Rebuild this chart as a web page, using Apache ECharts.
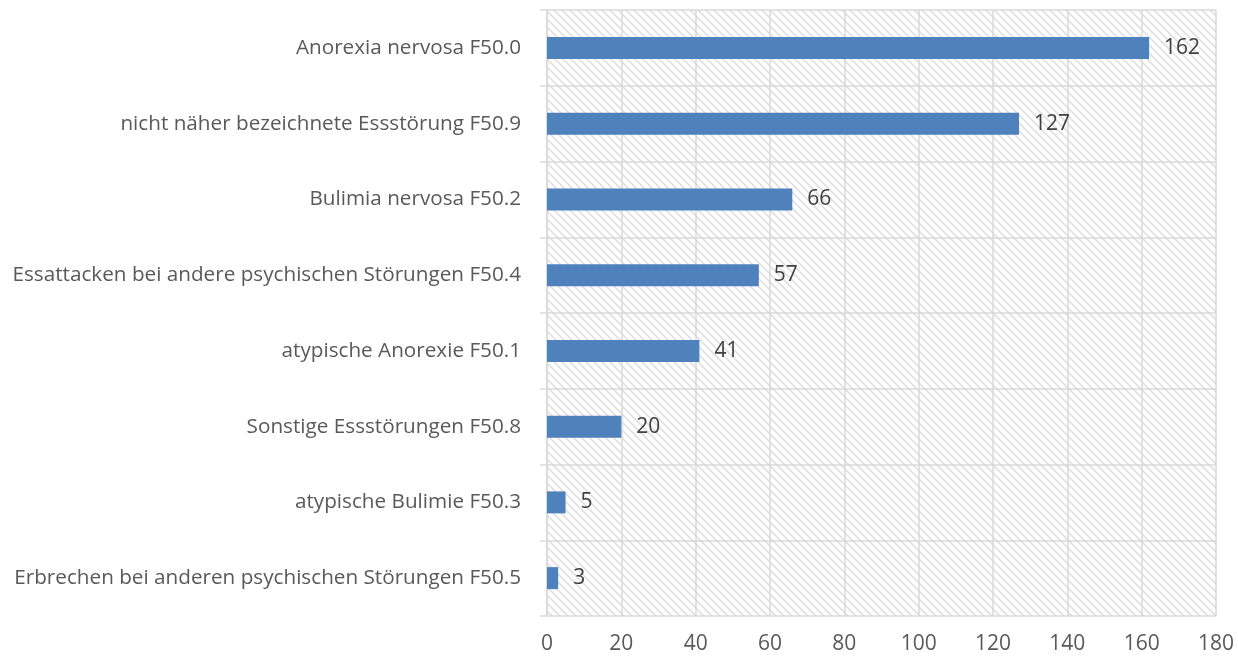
<!DOCTYPE html>
<html><head><meta charset="utf-8">
<script src="https://cdn.jsdelivr.net/npm/echarts@6/dist/echarts.min.js"></script>
<style>html,body{margin:0;padding:0;background:#fff}#c{width:1238px;height:659px}</style>
</head><body><div id="c"></div>
<script>
const categories = [
  "Anorexia nervosa F50.0",
  "nicht näher bezeichnete Essstörung F50.9",
  "Bulimia nervosa F50.2",
  "Essattacken bei andere psychischen Störungen F50.4",
  "atypische Anorexie F50.1",
  "Sonstige Essstörungen F50.8",
  "atypische Bulimie F50.3",
  "Erbrechen bei anderen psychischen Störungen F50.5"
];
const values = [162, 127, 66, 57, 41, 20, 5, 3];
const xTicks = [0, 20, 40, 60, 80, 100, 120, 140, 160, 180];

const tile = document.createElement('canvas');
tile.width = 8; tile.height = 8;
const g = tile.getContext('2d');
g.strokeStyle = '#e0e0e0';
g.lineWidth = 1.6;
g.beginPath();
g.moveTo(-2, -2); g.lineTo(10, 10);
g.moveTo(-2, 6); g.lineTo(2, 10);
g.moveTo(6, -2); g.lineTo(10, 2);
g.stroke();

const chart = echarts.init(document.getElementById('c'));
const font = 'Open Sans';
chart.setOption({
  animation: false,
  grid: {left: 547, right: 22, top: 10, bottom: 43, show: true, borderWidth: 0,
    backgroundColor: {image: tile, repeat: 'repeat'}},
  xAxis: {
    type: 'value', min: xTicks[0], max: xTicks[xTicks.length - 1], interval: 20,
    axisLine: {show: false}, axisTick: {show: false},
    splitLine: {show: true, lineStyle: {color: '#d9d9d9', width: 1.5}},
    axisLabel: {color: '#595959', fontSize: 21, fontFamily: font, margin: 18}
  },
  yAxis: {
    type: 'category', data: categories, inverse: true,
    axisLine: {show: true, lineStyle: {color: '#d9d9d9', width: 1.5}},
    axisTick: {show: true, length: 7, lineStyle: {color: '#d9d9d9', width: 1.5}},
    splitLine: {show: true, lineStyle: {color: '#d9d9d9', width: 1.5}},
    axisLabel: {color: '#595959', fontSize: 20.7, fontFamily: font, margin: 26}
  },
  series: [{
    type: 'bar', data: values, barWidth: 22,
    itemStyle: {color: '#4f81bd'},
    label: {show: true, position: 'right', distance: 15, color: '#404040', fontSize: 21, fontFamily: font}
  }]
});
</script></body></html>
